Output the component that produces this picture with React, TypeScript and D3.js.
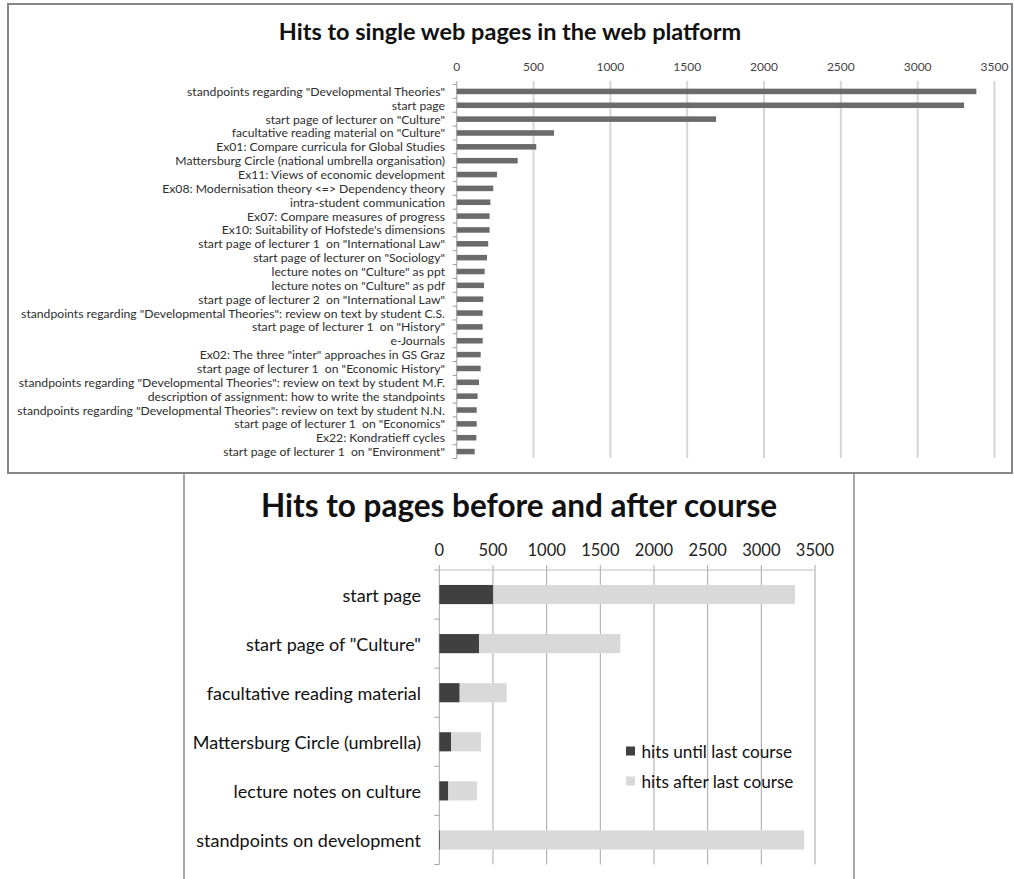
import React from "react";
import * as d3 from "d3";

// ---------- Top chart data ----------
const pageLabels: string[] = [
  'standpoints regarding "Developmental Theories"',
  "start page",
  'start page of lecturer on "Culture"',
  'facultative reading material on "Culture"',
  "Ex01: Compare curricula for Global Studies",
  "Mattersburg Circle (national umbrella organisation)",
  "Ex11: Views of economic development",
  "Ex08: Modernisation theory <=> Dependency theory",
  "intra-student communication",
  "Ex07: Compare measures of progress",
  "Ex10: Suitability of Hofstede's dimensions",
  'start page of lecturer 1  on "International Law"',
  'start page of lecturer on "Sociology"',
  'lecture notes on "Culture" as ppt',
  'lecture notes on "Culture" as pdf',
  'start page of lecturer 2  on "International Law"',
  'standpoints regarding "Developmental Theories": review on text by student C.S.',
  'start page of lecturer 1  on "History"',
  "e-Journals",
  'Ex02: The three "inter" approaches in GS Graz',
  'start page of lecturer 1  on "Economic History"',
  'standpoints regarding "Developmental Theories": review on text by student M.F.',
  "description of assignment: how to write the standpoints",
  'standpoints regarding "Developmental Theories": review on text by student N.N.',
  'start page of lecturer 1  on "Economics"',
  "Ex22: Kondratieff cycles",
  'start page of lecturer 1  on "Environment"',
];
const pageHits: number[] = [
  3382, 3302, 1688, 633, 518, 397, 262, 238, 219, 214, 214, 205, 197, 182, 178,
  173, 169, 169, 169, 156, 156, 145, 136, 130, 130, 128, 117,
];
const topTicks: number[] = [0, 500, 1000, 1500, 2000, 2500, 3000, 3500];

// ---------- Bottom chart data ----------
const courseLabels: string[] = [
  "start page",
  'start page of "Culture"',
  "facultative reading material",
  "Mattersburg Circle (umbrella)",
  "lecture notes on culture",
  "standpoints on development",
];
const hitsUntil: number[] = [503, 370, 190, 109, 84, 8];
const hitsAfter: number[] = [2810, 1317, 438, 280, 267, 3391];
const seriesNames: string[] = ["hits until last course", "hits after last course"];
const bottomTicks: number[] = [0, 500, 1000, 1500, 2000, 2500, 3000, 3500];

const FONT = "Lato, 'Open Sans', sans-serif";

export default function App() {
  // top chart scales
  const xTop = d3.scaleLinear().domain([0, 3500]).range([456.7, 994.5]);
  const yTop = d3
    .scaleBand<string>()
    .domain(pageLabels)
    .range([84.5, 458.5])
    .paddingInner(0.6)
    .paddingOuter(0.3);
  const stepTop = yTop.step();
  const topBoundaries = d3.range(pageLabels.length + 1).map((i) => 84.5 + i * stepTop);

  // bottom chart scales
  const xBot = d3.scaleLinear().domain([0, 3500]).range([439.3, 815]);
  const yBot = d3
    .scaleBand<string>()
    .domain(courseLabels)
    .range([570, 864.5])
    .paddingInner(0.61)
    .paddingOuter(0.305);
  const stepBot = yBot.step();
  const botBoundaries = d3.range(courseLabels.length + 1).map((i) => 570 + i * stepBot);

  const stacked = courseLabels.map((c, i) => ({
    c,
    a: hitsUntil[i],
    b: hitsAfter[i],
  }));

  const colors = ["#404040", "#d9d9d9"];

  return (
    <div style={{ position: "absolute", left: 0, top: 0 }}>
      <svg width={1014} height={879} style={{ display: "block", background: "#fff" }}>
        <rect x={0} y={0} width={1014} height={879} fill="#fff" />

        {/* ---------- Top chart ---------- */}
        <rect x={8} y={4} width={1004} height={469} fill="none" stroke="#868686" strokeWidth={2} />
        <text
          x={510}
          y={39.5}
          textAnchor="middle"
          fontFamily={FONT}
          fontWeight="bold"
          fontSize={23.5}
          fill="#111"
        >
          Hits to single web pages in the web platform
        </text>
        {topTicks.map((t) => (
          <g key={"tg" + t}>
            {t > 0 && (
              <line x1={xTop(t)} x2={xTop(t)} y1={81} y2={458} stroke="#d6d6d6" strokeWidth={2} />
            )}
            <text
              x={xTop(t)}
              y={66}
              textAnchor="middle"
              dominantBaseline="central"
              fontFamily={FONT}
              fontSize={12}
              fill="#444"
            >
              {t}
            </text>
          </g>
        ))}
        <line x1={xTop(0)} x2={xTop(0)} y1={81} y2={458.5} stroke="#bdbdbd" strokeWidth={1.5} />
        {topBoundaries.map((y, i) => (
          <line key={"tb" + i} x1={xTop(0) - 4} x2={xTop(0)} y1={y} y2={y} stroke="#9a9a9a" strokeWidth={1} />
        ))}
        {pageLabels.map((c, i) => (
          <g key={"tp" + i}>
            <rect
              x={xTop(0)}
              y={yTop(c)!}
              width={xTop(pageHits[i]) - xTop(0)}
              height={yTop.bandwidth()}
              fill="#6b6b6b"
            />
            <text
              x={445}
              y={yTop(c)! + yTop.bandwidth() / 2}
              textAnchor="end"
              dominantBaseline="central"
              fontFamily={FONT}
              fontSize={12.2}
              fill="#2e2e2e"
              style={{ whiteSpace: "pre" }}
            >
              {c}
            </text>
          </g>
        ))}

        {/* ---------- Bottom chart ---------- */}
        <line x1={184} x2={184} y1={474} y2={879} stroke="#8a8a8a" strokeWidth={1.5} />
        <line x1={854} x2={854} y1={474} y2={879} stroke="#8a8a8a" strokeWidth={1.5} />
        <text
          x={519}
          y={516.5}
          textAnchor="middle"
          fontFamily={FONT}
          fontWeight="bold"
          fontSize={31.5}
          fill="#111"
        >
          Hits to pages before and after course
        </text>
        {bottomTicks.map((t) => (
          <g key={"bg" + t}>
            <line x1={xBot(t)} x2={xBot(t)} y1={565} y2={864.5} stroke="#a6a6a6" strokeWidth={1} />
            <text
              x={xBot(t)}
              y={549.5}
              textAnchor="middle"
              dominantBaseline="central"
              fontFamily={FONT}
              fontSize={16.5}
              fill="#222"
            >
              {t}
            </text>
          </g>
        ))}
        <line x1={xBot(0)} x2={xBot(3500)} y1={570} y2={570} stroke="#bdbdbd" strokeWidth={1} />
        {botBoundaries.map((y, i) => (
          <line key={"bb" + i} x1={xBot(0) - 5} x2={xBot(0)} y1={y} y2={y} stroke="#a6a6a6" strokeWidth={1} />
        ))}
        {stacked.map((d) => (
          <g key={"bs" + d.c}>
            <rect
              x={xBot(0)}
              y={yBot(d.c)!}
              width={xBot(d.a) - xBot(0)}
              height={yBot.bandwidth()}
              fill={colors[0]}
            />
            <rect
              x={xBot(d.a)}
              y={yBot(d.c)!}
              width={xBot(d.a + d.b) - xBot(d.a)}
              height={yBot.bandwidth()}
              fill={colors[1]}
            />
            <text
              x={421}
              y={yBot(d.c)! + yBot.bandwidth() / 2}
              textAnchor="end"
              dominantBaseline="central"
              fontFamily={FONT}
              fontSize={18}
              fill="#111"
            >
              {d.c}
            </text>
          </g>
        ))}
        {seriesNames.map((s, i) => (
          <g key={"lg" + i}>
            <rect x={626} y={746.5 + i * 30} width={9} height={9} fill={colors[i]} />
            <text
              x={641.5}
              y={751 + i * 30}
              dominantBaseline="central"
              fontFamily={FONT}
              fontSize={17.2}
              fill="#111"
            >
              {s}
            </text>
          </g>
        ))}
      </svg>
    </div>
  );
}
